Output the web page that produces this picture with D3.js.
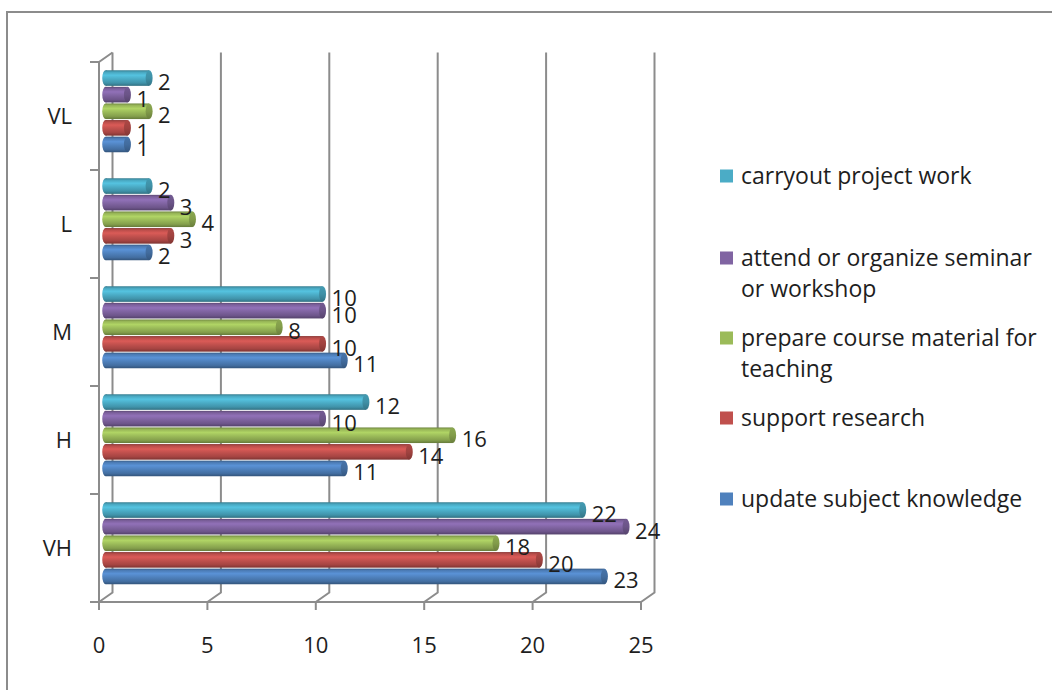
<!DOCTYPE html>
<html>
<head>
<meta charset="utf-8">
<script src="https://cdn.jsdelivr.net/npm/d3@7"></script>
<style>
  html, body { margin: 0; padding: 0; background: #fff; }
  svg { display: block; }
  text { font-family: "Open Sans", "Noto Sans", sans-serif; fill: #1e1e1e; }
</style>
</head>
<body>
<svg id="chart" width="1052" height="690"></svg>
<script>
// Ratings, top to bottom on the chart
const categories = ["VL", "L", "M", "H", "VH"];

// Series listed bottom bar first within each group
const seriesNames = [
  "update subject knowledge",
  "support research",
  "prepare course material for teaching",
  "attend or organize seminar or workshop",
  "carryout project work"
];
const seriesColors = ["#4F81BD", "#C0504D", "#9BBB59", "#8064A2", "#4BACC6"];

// Values per category, in the order of seriesNames
const updateKnowledge = { VL: 1, L: 2, M: 11, H: 11, VH: 23 };
const supportResearch = { VL: 1, L: 3, M: 10, H: 14, VH: 20 };
const courseMaterial  = { VL: 2, L: 4, M: 8,  H: 16, VH: 18 };
const seminarWorkshop = { VL: 1, L: 3, M: 10, H: 10, VH: 24 };
const projectWork     = { VL: 2, L: 2, M: 10, H: 12, VH: 22 };
const seriesValues = [updateKnowledge, supportResearch, courseMaterial, seminarWorkshop, projectWork];

const xTicks = [0, 5, 10, 15, 20, 25];

// Legend entries, top to bottom, with their line breaks
const legendLines = [
  ["carryout project work"],
  ["attend or organize seminar", "or workshop"],
  ["prepare course material for", "teaching"],
  ["support research"],
  ["update subject knowledge"]
];
const legendColors = ["#4BACC6", "#8064A2", "#9BBB59", "#C0504D", "#4F81BD"];

const svg = d3.select("#chart");

// Outer frame
svg.append("rect")
  .attr("x", 7).attr("y", 12).attr("width", 1100).attr("height", 720)
  .attr("fill", "none").attr("stroke", "#8c8c8c").attr("stroke-width", 2);

// Front plane scales; the back wall is shifted by the depth offset
const DX = 13.5, DY = -9.5;
const x = d3.scaleLinear().domain([0, 25]).range([99, 641]);
const y = d3.scaleBand().domain(categories).range([62, 602]);
const inner = d3.scaleBand()
  .domain(seriesNames.slice().reverse())
  .range([13, 13 + 83]);

const axisColor = "#8c8c8c";
const g = svg.append("g");

// Back wall gridlines with their floor connectors
xTicks.forEach(t => {
  const xb = x(t) + DX;
  g.append("path")
    .attr("d", `M${xb},${62 + DY} L${xb},${602 + DY} L${x(t)},602`)
    .attr("fill", "none").attr("stroke", axisColor).attr("stroke-width", 2);
});

// Left side wall: front edge, top connector and category ticks
g.append("path")
  .attr("d", `M${x(0) + DX},${62 + DY} L${x(0)},62 L${x(0)},602 L${x(25)},602`)
  .attr("fill", "none").attr("stroke", axisColor).attr("stroke-width", 2);
const catBounds = categories.map(c => y(c)).concat([602]);
catBounds.forEach(b => {
  g.append("line")
    .attr("x1", x(0) - 9).attr("x2", x(0))
    .attr("y1", b).attr("y2", b)
    .attr("stroke", axisColor).attr("stroke-width", 2);
});
xTicks.forEach(t => {
  g.append("line")
    .attr("x1", x(t)).attr("x2", x(t))
    .attr("y1", 602).attr("y2", 610)
    .attr("stroke", axisColor).attr("stroke-width", 2);
});

// Cylinder shading per series
const defs = svg.append("defs");
seriesColors.forEach((c, i) => {
  const base = d3.color(c);
  const grad = defs.append("linearGradient")
    .attr("id", "cyl" + i).attr("x1", 0).attr("y1", 0).attr("x2", 0).attr("y2", 1);
  [[0, base.darker(0.9)], [0.12, base.darker(0.1)], [0.32, base.brighter(0.35)],
   [0.55, base], [0.82, base.darker(0.45)], [1, base.darker(1.2)]]
    .forEach(([o, col]) => grad.append("stop").attr("offset", o).attr("stop-color", col));
  const capGrad = defs.append("linearGradient")
    .attr("id", "cap" + i).attr("x1", 0).attr("y1", 0).attr("x2", 0).attr("y2", 1);
  [[0, base.darker(0.3)], [0.5, base.darker(0.5)], [1, base.darker(1.1)]]
    .forEach(([o, col]) => capGrad.append("stop").attr("offset", o).attr("stop-color", col));
});

// Bars sit halfway into the depth of the floor
const mx = DX / 2, my = DY / 2;
const barH = inner.bandwidth() - 1;
const rx = 3.5;

const rows = [];
categories.forEach(cat => {
  seriesNames.forEach((s, i) => {
    rows.push({ cat, series: s, i, value: seriesValues[i][cat] });
  });
});

const bars = g.selectAll("g.bar").data(rows).join("g").attr("class", "bar")
  .attr("transform", d => `translate(0,${y(d.cat) + my + inner(d.series)})`);

bars.append("ellipse")
  .attr("cx", x(0) + mx).attr("cy", barH / 2)
  .attr("rx", rx).attr("ry", barH / 2)
  .attr("fill", d => `url(#cyl${d.i})`);
bars.append("rect")
  .attr("x", x(0) + mx).attr("y", 0)
  .attr("width", d => x(d.value) - x(0)).attr("height", barH)
  .attr("fill", d => `url(#cyl${d.i})`);
bars.append("ellipse")
  .attr("cx", d => x(d.value) + mx).attr("cy", barH / 2)
  .attr("rx", rx).attr("ry", barH / 2)
  .attr("fill", d => `url(#cap${d.i})`);

// Value labels
bars.append("text")
  .attr("x", d => x(d.value) + mx + 9)
  .attr("y", barH / 2 + 12)
  .attr("font-size", 22)
  .text(d => d.value);

// Category labels
categories.forEach(c => {
  g.append("text")
    .attr("x", 72).attr("y", y(c) + y.bandwidth() / 2 + 8)
    .attr("text-anchor", "end").attr("font-size", 22)
    .text(c);
});

// Value axis labels
xTicks.forEach(t => {
  g.append("text")
    .attr("x", x(t)).attr("y", 653)
    .attr("text-anchor", "middle").attr("font-size", 22)
    .text(t);
});

// Legend
const legendY = [176, 258, 338, 418, 499];
legendLines.forEach((lines, i) => {
  const lg = svg.append("g").attr("transform", `translate(720,${legendY[i]})`);
  lg.append("rect").attr("x", 0).attr("y", -6.5).attr("width", 13).attr("height", 13)
    .attr("fill", legendColors[i]);
  lines.forEach((line, k) => {
    lg.append("text")
      .attr("x", 21).attr("y", 8 + k * 31)
      .attr("font-size", 23)
      .text(line);
  });
});
</script>
</body>
</html>
